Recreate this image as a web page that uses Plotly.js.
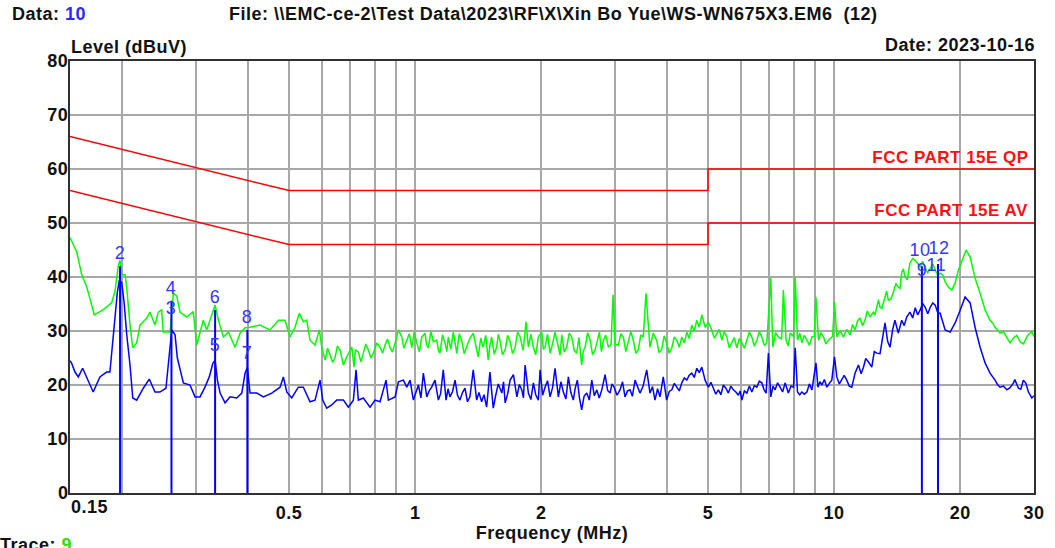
<!DOCTYPE html>
<html>
<head>
<meta charset="utf-8">
<script src="https://cdn.plot.ly/plotly-3.0.1.min.js"></script>
<style>
html,body{margin:0;padding:0;background:#fff;}
#chart{width:1055px;height:548px;}
#chart .main-svg text{letter-spacing:0.5px;}
</style>
</head>
<body>
<div id="chart"></div>
<script>
// ---- data: [frequency (MHz), level (dBuV)] ----
const greenPeak = [
[0.15,47.3],[0.1556,44.7],[0.160,40.4],[0.1644,38.2],[0.169,34.8],[0.1714,33],[0.1798,33.9],[0.1886,35.2],[0.192,37.3],[0.1957,42.2],
[0.1975,43.1],[0.1993,40.4],[0.203,40.4],[0.2049,38],[0.2086,31.1],[0.2118,26.9],[0.2164,27.8],[0.2204,31.1],[0.2287,32.4],[0.2328,33.5],
[0.2393,31.1],[0.2437,33.5],[0.2482,33.9],[0.2504,29.8],[0.26,29.8],[0.2647,37],[0.2697,36.5],[0.2746,33.5],[0.2849,32.6],[0.2954,33.6],
[0.301,27.4],[0.3121,32],[0.318,30.2],[0.3271,33.3],[0.333,34.8],[0.3391,32],[0.3486,28.9],[0.3583,29.8],[0.3716,27],[0.382,29.6],
[0.3926,30.6],[0.4035,30.7],[0.4265,31.1],[0.4505,30.2],[0.4715,32],[0.489,32],[0.5027,28.9],[0.5167,30.7],[0.529,33.3],[0.5408,31.7],
[0.551,32],[0.5611,28.3],[0.5768,27.4],[0.5905,30.2],[0.5984,27],[0.6093,24.6],[0.618,26.8],[0.6262,25.6],[0.635,24.2],[0.6436,25],
[0.652,27.2],[0.6619,26.5],[0.674,23.7],[0.6867,25.2],[0.7058,27],[0.7147,23.3],[0.72,26.5],[0.7318,26.1],[0.742,24.3],[0.7521,25.9],
[0.762,27.6],[0.7733,26.5],[0.784,25],[0.7947,25.9],[0.81,27.8],[0.8245,27],[0.836,25.9],[0.8474,27.4],[0.859,28.5],[0.8714,26.9],
[0.883,26.1],[0.8956,27.8],[0.9119,30.2],[0.9291,28.9],[0.94,26.8],[0.955,28.3],[0.968,29.5],[0.9815,26.9],[0.995,29.8],[1.009,27.8],
[1.023,26.2],[1.037,28.9],[1.056,29.6],[1.065,27.4],[1.075,26.9],[1.09,29.9],[1.105,28],[1.126,28.3],[1.136,26.4],[1.146,25.9],
[1.162,29.3],[1.178,27.8],[1.19,26.2],[1.2,28.9],[1.216,26.6],[1.233,29.8],[1.245,27.4],[1.257,25.9],[1.274,29.5],[1.291,28.3],
[1.309,25.8],[1.327,27],[1.35,28.6],[1.376,29.6],[1.395,27],[1.414,25.2],[1.434,28.7],[1.453,27],[1.474,29.2],[1.494,24.6],
[1.508,27.3],[1.522,28.9],[1.544,25.7],[1.565,27],[1.58,29.4],[1.593,28.3],[1.616,25.6],[1.64,26.5],[1.662,29.2],[1.685,28],
[1.708,25.8],[1.732,27],[1.756,29.8],[1.78,28.9],[1.81,26.4],[1.84,31.7],[1.863,27],[1.889,29.4],[1.915,27],[1.94,25.6],
[1.968,28.9],[2.005,29.8],[2.023,26.6],[2.042,27],[2.07,29.4],[2.099,25.9],[2.128,27.6],[2.157,29.8],[2.197,27],[2.218,25.5],
[2.238,29.3],[2.27,26.1],[2.3,27],[2.332,29.6],[2.364,28.9],[2.397,26.4],[2.43,25.9],[2.46,28.8],[2.497,23.7],[2.52,26.3],
[2.545,27],[2.58,29.7],[2.616,28.3],[2.652,25.6],[2.688,26.5],[2.72,28.3],[2.753,29.8],[2.783,26.2],[2.813,28.3],[2.852,29.2],
[2.892,27],[2.935,27.5],[2.967,36.7],[3.0,27.5],[3.055,27.4],[3.097,29.5],[3.14,28.9],[3.183,26.2],[3.227,27.8],[3.272,29.9],
[3.317,28.3],[3.363,25.9],[3.409,26.5],[3.456,29.3],[3.504,28.9],[3.556,37],[3.635,27],[3.7,29.6],[3.77,28.3],[3.82,26],
[3.875,26.5],[3.93,29.1],[3.983,27.8],[4.04,25.9],[4.098,26.9],[4.155,28.9],[4.212,28.3],[4.27,27],[4.329,28.9],[4.39,27.8],
[4.45,29.8],[4.51,28.6],[4.573,31.1],[4.636,30],[4.701,32],[4.766,30.7],[4.833,33],[4.921,30.7],[5.01,31.6],[5.105,30.2],
[5.175,28.7],[5.247,29.6],[5.32,30.3],[5.393,28.3],[5.468,29.9],[5.543,28.9],[5.62,26.9],[5.697,27.8],[5.776,28.8],[5.856,26.9],
[5.94,28.6],[6.023,27.8],[6.106,26.8],[6.191,28.3],[6.277,29.8],[6.363,28.9],[6.45,27.2],[6.54,28.3],[6.63,29.9],[6.722,28.9],
[6.815,27.3],[6.908,27.8],[6.969,32],[7.062,39.8],[7.139,27],[7.25,29.7],[7.363,28.9],[7.493,28.5],[7.567,37.6],[7.68,28.3],
[7.77,27.2],[7.856,29.6],[8.0,29],[8.075,40],[8.177,28.3],[8.277,29.6],[8.377,27.8],[8.49,29.2],[8.611,28.3],[8.73,27.4],
[8.853,28.9],[8.966,29],[9.05,36.3],[9.179,28.3],[9.3,29.7],[9.435,28.9],[9.56,27.6],[9.692,28.3],[9.918,29],[10.02,35.4],
[10.15,28.9],[10.33,30.1],[10.52,28.9],[10.72,30.3],[10.92,29.3],[11.07,31.2],[11.22,30.2],[11.38,31.9],[11.53,32.4],[11.69,31],
[11.85,32],[12.0,33.7],[12.18,32.6],[12.41,33.5],[12.52,33],[12.64,34.8],[12.76,35.8],[12.87,34.4],[13.0,34.2],[13.23,36.3],
[13.35,37.4],[13.47,35.7],[13.66,35.9],[13.85,37.2],[14.05,38.8],[14.23,38.1],[14.36,37.9],[14.5,40.9],[14.63,41.5],[14.76,40],
[14.96,39.5],[15.17,42.6],[15.4,43.4],[15.62,43.1],[15.83,42.5],[16.05,41.9],[16.27,42.9],[16.5,41.6],[16.73,40.8],[16.96,41.6],
[17.2,42.4],[17.43,41.3],[17.67,40.3],[17.91,40.7],[18.15,40.4],[18.41,39.1],[18.75,38.1],[19.1,37.6],[19.45,38.9],[19.8,41.3],
[20.35,43.7],[20.66,45],[21.12,43.7],[21.7,39.8],[22.31,37],[22.93,33.9],[23.56,32],[23.9,31.5],[24.22,30.7],[24.55,30.1],
[24.89,29.6],[25.35,29.9],[25.84,28.9],[26.3,27.8],[26.8,28.7],[27.3,29.2],[27.8,28],[28.3,27.6],[28.84,28.9],[29.2,29.5],
[29.64,29.8],[30,29]
];

const blueAverage = [
[0.15,24.5],[0.1514,24],[0.1542,22.4],[0.157,21.5],[0.1608,23.1],[0.1644,21.3],[0.1704,18.7],[0.1768,21.5],[0.1835,22.4],[0.1868,22.4],
[0.1896,28],[0.192,32.4],[0.1946,37.2],[0.1967,39.4],[0.1993,39],[0.2019,35.4],[0.2049,29.3],[0.2086,23.7],[0.2118,17.6],[0.2164,17.2],
[0.2244,19.4],[0.2319,21.1],[0.2393,18.7],[0.2459,18.7],[0.2542,19.4],[0.2574,23.7],[0.2624,30.2],[0.2672,29.3],[0.2706,25],[0.2797,20.4],
[0.2901,20],[0.2982,17.8],[0.3065,17.8],[0.315,19.6],[0.3225,21.5],[0.3289,24],[0.333,24.6],[0.3373,20.9],[0.3423,18.5],[0.3518,16.7],
[0.3616,17.8],[0.3751,17.6],[0.3856,18.5],[0.3926,22.2],[0.3976,23.3],[0.4035,18.5],[0.4188,18.5],[0.4343,17.8],[0.4547,18.5],[0.4759,19.6],
[0.4846,21.5],[0.4937,18.7],[0.5074,17.6],[0.5262,19.6],[0.5408,19.6],[0.5611,16.9],[0.5768,17.2],[0.5928,20.9],[0.6016,17.2],[0.615,15.7],
[0.6321,16.3],[0.6497,17.2],[0.674,17.2],[0.6927,15.9],[0.712,17.2],[0.7226,22.8],[0.7318,17.2],[0.7521,17.6],[0.7803,15.9],[0.8022,17.2],
[0.8245,16.9],[0.8521,20.9],[0.8629,17.2],[0.8956,17.8],[0.9119,20.6],[0.9373,20.9],[0.955,19.6],[0.9724,20.9],[0.990,17.2],[1.004,18.6],
[1.018,20],[1.032,17.6],[1.046,22.2],[1.066,17.8],[1.08,18.9],[1.095,19.6],[1.115,20.9],[1.136,17.2],[1.15,18.4],[1.167,22.8],
[1.185,17.2],[1.198,19.3],[1.211,17.8],[1.228,18.8],[1.245,20.9],[1.262,18.1],[1.279,17.2],[1.297,18.6],[1.315,19.4],[1.333,16.9],
[1.351,17.8],[1.376,22.8],[1.402,17.2],[1.42,18.6],[1.441,16.9],[1.46,18.2],[1.481,15.9],[1.508,22.4],[1.536,15.7],[1.557,18.1],
[1.579,20.2],[1.61,18.5],[1.625,20.6],[1.64,16.7],[1.662,18.3],[1.685,20.9],[1.716,21.9],[1.749,17.8],[1.773,20.1],[1.797,19.1],
[1.813,17.6],[1.83,23.7],[1.863,18.5],[1.889,17.3],[1.915,20.4],[1.94,18.2],[1.968,17.2],[1.987,22.8],[2.015,18.1],[2.042,19.6],
[2.07,20.8],[2.099,17.8],[2.128,19.5],[2.157,23.1],[2.197,17.8],[2.228,20.6],[2.258,18.7],[2.29,17.4],[2.321,21.5],[2.353,18.6],
[2.385,17.2],[2.41,19.4],[2.438,20.9],[2.467,17.6],[2.497,15.4],[2.53,17.9],[2.568,18.5],[2.604,17.2],[2.64,20.9],[2.677,18.0],
[2.714,19.1],[2.75,17.6],[2.789,19.1],[2.84,21.9],[2.88,19.0],[2.919,18.5],[2.95,20.2],[2.984,19.6],[3.033,18.1],[3.083,19.1],
[3.126,20.6],[3.169,17.8],[3.213,18.9],[3.257,19.1],[3.3,17.9],[3.348,20.9],[3.395,19.6],[3.441,18.5],[3.5,19.8],[3.57,22.8],
[3.635,18.5],[3.686,19.7],[3.736,17.2],[3.79,19.3],[3.84,17.8],[3.91,21.5],[3.983,17.2],[4.04,18.8],[4.098,19.1],[4.155,20.3],
[4.212,19.6],[4.27,18.9],[4.329,20.4],[4.39,21.3],[4.45,20.9],[4.51,21.8],[4.573,22.2],[4.636,21.4],[4.701,23.1],[4.766,22.3],
[4.833,23.3],[4.921,20.9],[5.011,19.6],[5.08,20.5],[5.15,19.4],[5.22,18.3],[5.293,19.1],[5.367,18.2],[5.441,20],[5.517,19.4],
[5.593,18.5],[5.67,19.8],[5.748,19.1],[5.827,18.7],[5.907,18.1],[5.965,18.9],[6.023,17.2],[6.106,18.9],[6.191,18.5],[6.277,19.8],
[6.363,18.7],[6.45,19.9],[6.54,19.6],[6.63,20.7],[6.722,20.4],[6.8,19.2],[6.882,18.5],[6.969,25.9],[7.062,17.8],[7.145,19.8],
[7.23,19.1],[7.33,20.4],[7.431,19.6],[7.535,18.7],[7.638,20.4],[7.777,18.5],[7.89,19.8],[8.0,19.6],[8.075,26.9],[8.177,18.7],
[8.277,18.2],[8.377,18.7],[8.49,18.3],[8.611,18.7],[8.73,20.2],[8.853,19.1],[9.05,24.1],[9.149,19.6],[9.25,20.6],[9.353,20],
[9.48,21],[9.608,19.6],[9.74,20.3],[9.875,20.9],[10.02,25.2],[10.15,21.5],[10.29,20.2],[10.43,20.9],[10.57,21.8],[10.72,20.9],
[10.87,19.8],[11.02,19.6],[11.22,22.2],[11.43,23.7],[11.6,22.1],[11.75,23.3],[11.9,24.9],[12.07,24.3],[12.3,23.3],[12.47,26.2],
[12.64,25.9],[12.87,25.8],[13.05,28.4],[13.23,31.5],[13.42,28.1],[13.6,27],[13.79,30.2],[13.97,32],[14.23,29.6],[14.5,32],
[14.7,31],[14.9,32.6],[15.17,33.5],[15.4,32.4],[15.62,34.3],[15.83,33],[16.05,33.9],[16.27,35.1],[16.5,34.4],[16.73,33.2],
[16.96,34.4],[17.2,35.2],[17.43,34.8],[17.67,33.4],[17.91,33.3],[18.41,30.2],[18.92,29.8],[19.45,31.5],[20.0,33.9],[20.54,36.3],
[21.12,35.2],[21.7,30.7],[22.31,27],[22.93,24.1],[23.56,22.2],[23.9,21.6],[24.22,20.9],[24.55,20.1],[24.89,19.6],[25.35,19.8],
[25.84,19.1],[26.3,19.5],[26.8,20.4],[27.0,21.0],[27.54,19.4],[27.9,19.2],[28.3,20.9],[28.7,20.3],[29.09,18.7],[29.35,18.2],
[29.64,17.6],[30,18]
];

const qpLimitFreq = [0.15, 0.5, 5, 5, 30];
const qpLimitLevel = [66, 56, 56, 60, 60];
const avLimitFreq = [0.15, 0.5, 5, 5, 30];
const avLimitLevel = [56, 46, 46, 50, 50];

const markerLineFreq = [0.1975, 0.262, 0.333, 0.3976, 16.2, 17.7];
const markerLineLevel = [42.0, 35.6, 33.9, 30.2, 42.0, 42.4];

const markerLabel = ['2','3','4','5','6','7','8','9','10','11','12'];
const markerFreq  = [0.1975,0.262,0.262,0.333,0.333,0.3976,0.3976,16.2,16.05,17.55,17.8];
const markerLevel = [42.0,31.9,35.6,25.0,33.9,23.5,30.2,38.9,42.6,39.8,43.0];

const xTickVals = [0.15,0.2,0.3,0.4,0.5,0.6,0.7,0.8,0.9,1,2,3,4,5,6,7,8,9,10,20,30];
const xTickText = ['','','','','0.5','','','','','1','2','','','5','','','','','10','20','30'];
const yTickVals = [0,10,20,30,40,50,60,70,80];

// ---- drawing ----
const FONT = 'Liberation Sans, Arial, Helvetica, sans-serif';
const traces = [
  {x: qpLimitFreq, y: qpLimitLevel, mode: 'lines', line: {color: '#ff0000', width: 1.5}},
  {x: avLimitFreq, y: avLimitLevel, mode: 'lines', line: {color: '#ff0000', width: 1.5}},
  {x: greenPeak.map(p => p[0]), y: greenPeak.map(p => p[1]), mode: 'lines', line: {color: '#00ff00', width: 1.5}},
  {x: blueAverage.map(p => p[0]), y: blueAverage.map(p => p[1]), mode: 'lines', line: {color: '#0000ff', width: 1.5}}
];
markerLineFreq.forEach((f, i) => {
  traces.push({x: [f, f], y: [0, markerLineLevel[i]], mode: 'lines', line: {color: '#0000ff', width: 2}});
});

const P = (px) => (px - 70) / 964;
const Q = (py) => (493 - py) / 432;
const boldFont = (size, color) => ({family: FONT, size: size, color: color, weight: 'bold'});

const annotations = [
  {xref: 'paper', yref: 'paper', x: P(12), y: Q(14), xanchor: 'left', yanchor: 'middle', showarrow: false,
   text: 'Data: <span style="color:#2a2aff">10</span>', font: boldFont(18, '#111')},
  {xref: 'paper', yref: 'paper', x: P(553), y: Q(14), xanchor: 'center', yanchor: 'middle', showarrow: false,
   text: 'File: \\\\EMC-ce-2\\Test Data\\2023\\RF\\X\\Xin Bo Yue\\WS-WN675X3.EM6\u00a0\u00a0(12)', font: boldFont(18, '#111')},
  {xref: 'paper', yref: 'paper', x: P(72), y: Q(47), xanchor: 'left', yanchor: 'middle', showarrow: false,
   text: 'Level (dBuV)', font: boldFont(18, '#111')},
  {xref: 'paper', yref: 'paper', x: P(1033), y: Q(45), xanchor: 'right', yanchor: 'middle', showarrow: false,
   text: 'Date: 2023-10-16', font: boldFont(18, '#111')},
  {xref: 'paper', yref: 'paper', x: P(0), y: Q(545), xanchor: 'left', yanchor: 'middle', showarrow: false,
   text: 'Trace: <span style="color:#33dd00">9</span>', font: boldFont(18, '#111')},
  {xref: 'x', yref: 'y', x: Math.log10(0.15), y: 0, xanchor: 'left', yanchor: 'top', yshift: -2, showarrow: false,
   text: '0.15', font: boldFont(18, '#111')},
  {xref: 'x', yref: 'y', x: Math.log10(30), y: 60, xanchor: 'right', yanchor: 'middle', xshift: -7, yshift: 12, showarrow: false,
   text: 'FCC PART 15E QP', font: boldFont(17, '#ff1010')},
  {xref: 'x', yref: 'y', x: Math.log10(30), y: 50, xanchor: 'right', yanchor: 'middle', xshift: -7, yshift: 13, showarrow: false,
   text: 'FCC PART 15E AV', font: boldFont(17, '#ff1010')}
];
markerLabel.forEach((t, i) => {
  annotations.push({xref: 'x', yref: 'y', x: Math.log10(markerFreq[i]), y: markerLevel[i], xanchor: 'center', yanchor: 'middle',
    yshift: 13, showarrow: false, text: t, font: {family: FONT, size: 18, color: '#3535ff'}});
});

const axisCommon = {
  showgrid: true, gridcolor: '#a8a8a8', gridwidth: 2, zeroline: false,
  showline: true, mirror: true, linecolor: '#303030', linewidth: 2, ticks: '',
  tickfont: boldFont(18, '#111')
};

const layout = {
  width: 1055, height: 548,
  margin: {l: 70, r: 21, t: 61, b: 55, pad: 0},
  paper_bgcolor: '#ffffff', plot_bgcolor: '#ffffff',
  showlegend: false,
  xaxis: Object.assign({}, axisCommon, {
    type: 'log', range: [Math.log10(0.15), Math.log10(30)],
    tickmode: 'array', tickvals: xTickVals, ticktext: xTickText, ticklabelstandoff: 2,
    title: {text: 'Frequency (MHz)', font: boldFont(18, '#111'), standoff: 3}
  }),
  yaxis: Object.assign({}, axisCommon, {
    range: [0, 80], tickmode: 'array', tickvals: yTickVals, ticklabelstandoff: -4
  }),
  annotations: annotations
};

Plotly.newPlot('chart', traces, layout, {staticPlot: true, displayModeBar: false});
</script>
</body>
</html>
